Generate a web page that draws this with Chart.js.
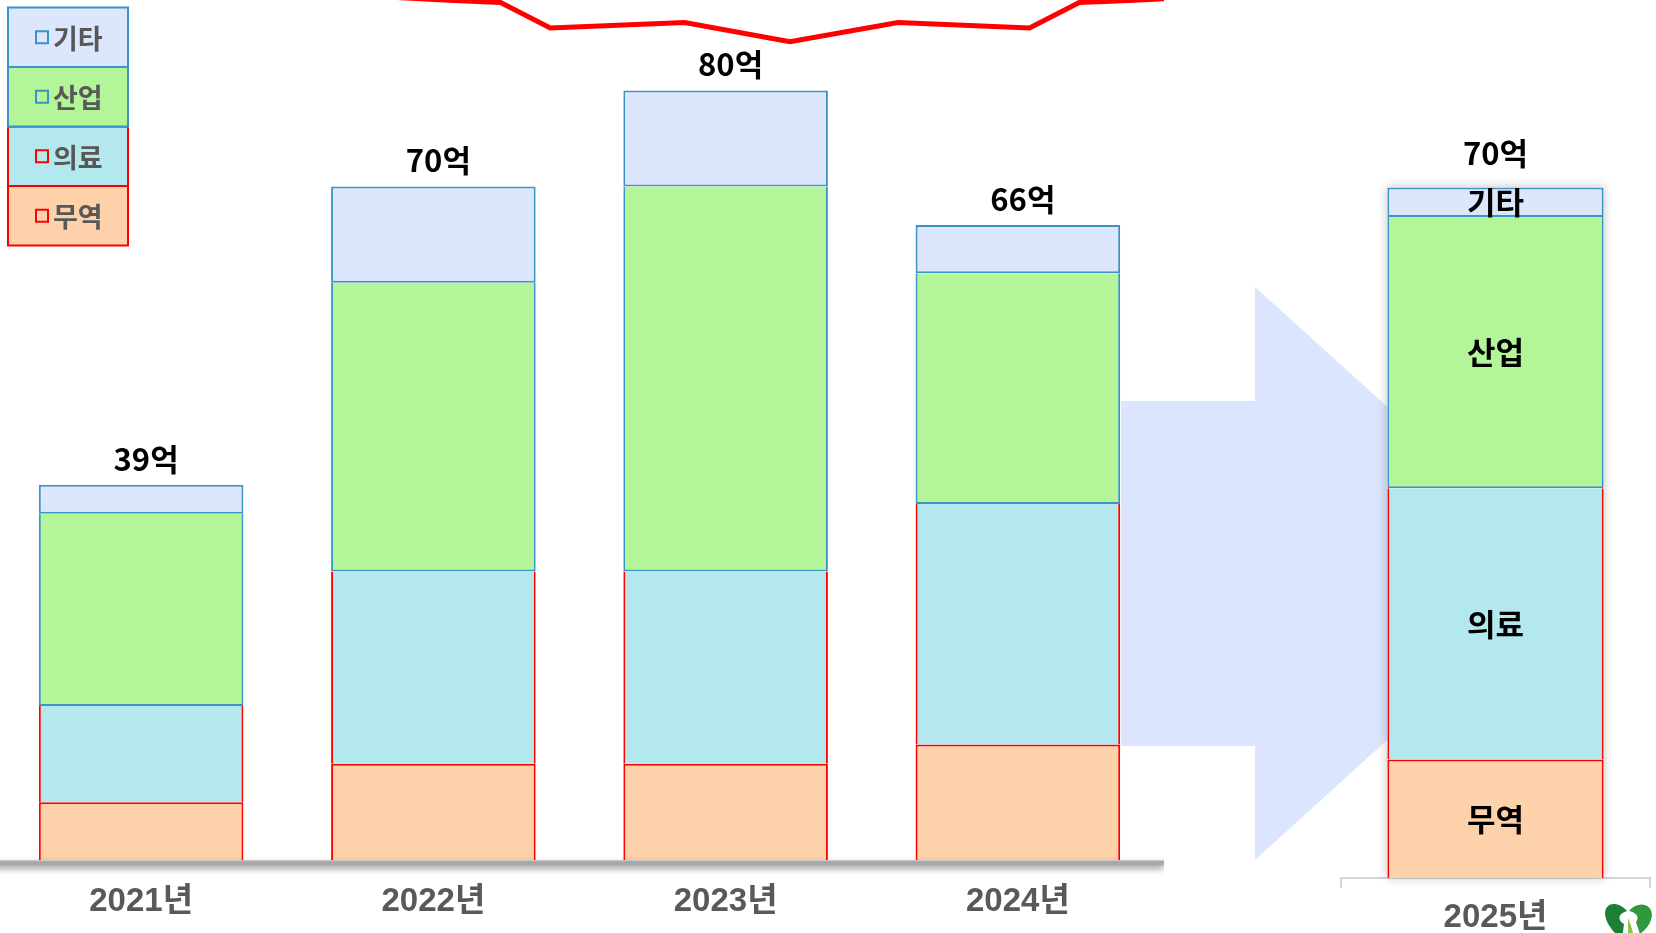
<!DOCTYPE html>
<html>
<head>
<meta charset="utf-8">
<script src="https://cdn.jsdelivr.net/npm/chart.js@4.4.1/dist/chart.umd.min.js"></script>
<style>
  html, body { margin: 0; padding: 0; background: #fff; overflow: hidden; }
  #wrap { position: relative; width: 1656px; height: 933px; }
  #deco { position: absolute; left: 0; top: 0; }
  #past { position: absolute; left: -5px; top: 0; }
  #plan { position: absolute; left: 1339px; top: 0; }
</style>
</head>
<body>
<div id="wrap">
  <svg id="deco" width="1656" height="933">
    <polygon points="1121,401 1255,401 1255,287 1571,573 1255,860 1255,746 1121,746" fill="#dbe5fd"/>
    <path d="M1627,911 C1617,899 1601,903 1606,919 C1609,928 1616,934 1622,940 L1624,924 C1618,921 1617,914 1627,911 Z" fill="#1d7f35"/>
    <path d="M1629,911 C1639,899 1656,905 1651,920 C1649,926 1645,930 1640,934 L1636,922 C1639,918 1638,913 1629,911 Z" fill="#2e9a3c"/>
    <path d="M1628,918 C1631,925 1633,931 1634,940 L1628,940 Z" fill="#8cc63f"/>
  </svg>
  <canvas id="past" width="1169" height="933"></canvas>
  <canvas id="plan" width="313" height="933"></canvas>
</div>
<script>
// 2021~2024 실적 (억)
const years = ['2021년', '2022년', '2023년', '2024년'];
const trade = [6, 10, 10, 12];
const medical = [10, 20, 20, 25];
const industry = [20, 30, 40, 24];
const other = [3, 10, 10, 5];

// 2025 목표 (억)
const planYear = ['2025년'];
const trade25 = [12];
const medical25 = [27.5];
const industry25 = [27.5];
const other25 = [3];

// 위쪽 빨간 선 (x는 연도 인덱스 기준)
const lineX = [0.85, 1.07, 1.23, 1.40, 1.86, 2.22, 2.59, 3.04, 3.21, 3.38, 3.6];
const lineY = [89.7, 89.35, 89.13, 86.5, 87.05, 85.07, 87.05, 86.5, 89.13, 89.35, 89.7];

const names = ['무역', '의료', '산업', '기타'];
const fills = ['#fdd1a9', '#b3e9ee', '#b3f598', '#dce6fd'];
const edges = ['#ff0000', '#ff0000', '#3b94c4', '#3b94c4'];
const sides = [
  { top: 2, left: 2, right: 2, bottom: 0 },
  { top: 0, left: 2, right: 2, bottom: 0 },
  { top: 0, left: 2, right: 2, bottom: 2 },
  { top: 2, left: 2, right: 2, bottom: 2 }
];

const labelFont = '"Liberation Sans", "Noto Sans CJK KR", sans-serif';
const krFont = '"Noto Sans CJK KR", sans-serif';

const makeBars = (series) => series.map((data, i) => ({
  type: 'bar',
  label: names[i],
  data: data,
  backgroundColor: fills[i],
  borderColor: edges[i],
  borderWidth: sides[i],
  borderSkipped: false,
  barPercentage: 0.7,
  categoryPercentage: 1,
  grouped: false,
  stack: 'sales'
}));

const totalsPlugin = {
  id: 'totals',
  afterDatasetsDraw(chart, args, opts) {
    const ctx = chart.ctx;
    const top = chart.getDatasetMeta(3);
    ctx.save();
    ctx.font = 'bold 31px ' + krFont;
    ctx.fillStyle = '#000';
    ctx.textAlign = 'center';
    ctx.textBaseline = 'middle';
    top.data.forEach((bar, i) => {
      let sum = 0;
      for (let d = 0; d < 4; d++) sum += chart.data.datasets[d].data[i];
      ctx.fillText(Math.round(sum) + '억', bar.x + opts.dx, bar.y - opts.gap);
    });
    ctx.restore();
  }
};

const baselinePlugin = {
  id: 'baseline',
  afterDatasetsDraw(chart) {
    const ctx = chart.ctx;
    const area = chart.chartArea;
    ctx.save();
    ctx.strokeStyle = '#a8a8a8';
    ctx.lineWidth = 5;
    ctx.shadowColor = 'rgba(0,0,0,0.45)';
    ctx.shadowBlur = 6;
    ctx.shadowOffsetY = 3;
    ctx.beginPath();
    ctx.moveTo(0, area.bottom + 3);
    ctx.lineTo(area.right, area.bottom + 3);
    ctx.stroke();
    ctx.restore();
  }
};

const legendPlugin = {
  id: 'boxLegend',
  afterDraw(chart) {
    const ctx = chart.ctx;
    const x0 = 13, w = 120, h = 59.5, y0 = 7.5;
    ctx.save();
    for (let i = 0; i < 4; i++) {
      const row = 3 - i;
      const y = y0 + row * h;
      ctx.fillStyle = fills[i];
      ctx.fillRect(x0, y, w, h);
      ctx.strokeStyle = edges[i];
      ctx.lineWidth = 2;
      ctx.strokeRect(x0, y, w, h);
      ctx.strokeRect(x0 + 28, y + h / 2 - 6, 12, 12);
      ctx.fillStyle = '#585858';
      ctx.font = 'bold 27px ' + krFont;
      ctx.textBaseline = 'middle';
      ctx.fillText(names[i], x0 + 45, y + h / 2 + 1);
    }
    ctx.restore();
  }
};

const insidePlugin = {
  id: 'inside',
  afterDatasetsDraw(chart) {
    const ctx = chart.ctx;
    ctx.save();
    ctx.font = 'bold 31px ' + krFont;
    ctx.fillStyle = '#000';
    ctx.textAlign = 'center';
    ctx.textBaseline = 'middle';
    for (let d = 0; d < 4; d++) {
      chart.getDatasetMeta(d).data.forEach(bar => {
        ctx.fillText(chart.data.datasets[d].label, bar.x, (bar.y + bar.base) / 2);
      });
    }
    ctx.restore();
  }
};

const glowPlugin = {
  id: 'glow',
  beforeDatasetsDraw(chart) {
    const ctx = chart.ctx;
    const topBar = chart.getDatasetMeta(3).data[0];
    const lowBar = chart.getDatasetMeta(0).data[0];
    ctx.save();
    ctx.shadowColor = 'rgba(0,0,0,0.22)';
    ctx.shadowBlur = 10;
    ctx.fillStyle = '#fff';
    ctx.fillRect(topBar.x - topBar.width / 2, topBar.y, topBar.width, lowBar.base - topBar.y);
    ctx.restore();
  }
};

new Chart(document.getElementById('past'), {
  data: {
    labels: years,
    datasets: [
      ...makeBars([trade, medical, industry, other]),
      {
        type: 'line',
        label: 'line',
        xAxisID: 'xl',
        stack: 'line',
        data: lineX.map((x, i) => ({ x: x, y: lineY[i] })),
        borderColor: '#ff0000',
        borderWidth: 5,
        pointRadius: 0,
        tension: 0,
        fill: false
      }
    ]
  },
  options: {
    responsive: false,
    animation: false,
    layout: { padding: 0 },
    plugins: {
      legend: { display: false },
      tooltip: { enabled: false },
      totals: { gap: 26, dx: 5 }
    },
    scales: {
      x: {
        stacked: true,
        offset: true,
        grid: { display: false, drawTicks: false, offset: true },
        border: { display: false },
        ticks: { color: '#595959', padding: 22, font: { family: labelFont, size: 33, weight: 'bold' } },
        afterFit: (scale) => { scale.height = 73; }
      },
      xl: { type: 'linear', display: false, min: -0.5, max: 3.5 },
      y: { stacked: true, display: false, min: 0, max: 89.4 }
    }
  },
  plugins: [totalsPlugin, baselinePlugin, legendPlugin]
});

new Chart(document.getElementById('plan'), {
  type: 'bar',
  data: {
    labels: planYear,
    datasets: makeBars([trade25, medical25, industry25, other25])
  },
  options: {
    responsive: false,
    animation: false,
    layout: { padding: { left: 2, right: 2, top: 0, bottom: 0 } },
    plugins: {
      legend: { display: false },
      tooltip: { enabled: false },
      totals: { gap: 34, dx: 0 }
    },
    scales: {
      x: {
        stacked: true,
        grid: { display: true, drawOnChartArea: false, drawTicks: true, tickLength: 10, color: '#d4d4d4', lineWidth: 2 },
        border: { display: true, color: '#d4d4d4', width: 2 },
        ticks: { color: '#595959', padding: 10, font: { family: labelFont, size: 33, weight: 'bold' } },
        afterFit: (scale) => { scale.height = 55; }
      },
      y: { stacked: true, display: false, min: 0, max: 89 }
    }
  },
  plugins: [glowPlugin, totalsPlugin, insidePlugin]
});
</script>
</body>
</html>
